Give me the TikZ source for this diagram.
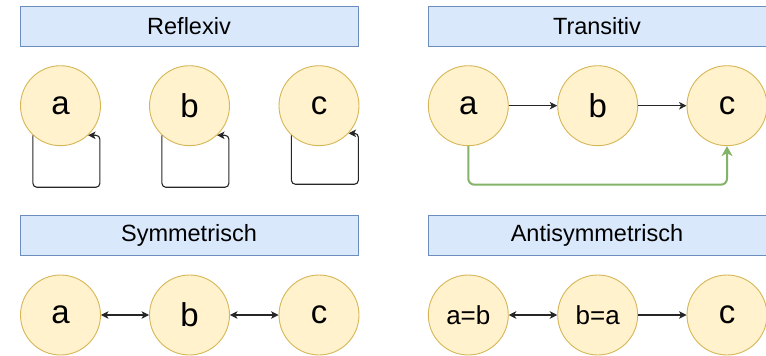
\documentclass[tikz,border=0pt]{standalone}
\usepackage{fontspec}
\setmainfont{Liberation Sans}
\usetikzlibrary{arrows.meta}
\definecolor{cfill}{HTML}{FFF2CC}
\definecolor{cdraw}{HTML}{D6B656}
\definecolor{tfill}{HTML}{DAE8FC}
\definecolor{tdraw}{HTML}{6C8EBF}
\definecolor{gline}{HTML}{82B366}
\tikzset{
  elem/.style={circle, draw=cdraw, fill=cfill, line width=0.9pt, minimum size=80pt, inner sep=0pt, font=\fontsize{33}{33}\selectfont},
  elemsmall/.style={elem, font=\fontsize{26}{26}\selectfont},
  titlebox/.style={draw=tdraw, fill=tfill, line width=1pt, minimum width=338pt, minimum height=40pt, inner sep=0pt, font=\fontsize{23.5}{23.5}\selectfont},
  edge/.style={draw=black!85, line width=1.1pt, -{Stealth[length=7.5pt,width=7.5pt,inset=2pt]}},
  bedge/.style={edge, {Stealth[length=7.5pt,width=7.5pt,inset=2pt]}-{Stealth[length=7.5pt,width=7.5pt,inset=2pt]}},
  loopedge/.style={edge, rounded corners=4pt},
  greenedge/.style={draw=gline, line width=2pt, rounded corners=6pt, -{Stealth[length=10pt,width=11pt,inset=3pt]}}
}
\begin{document}
\begin{tikzpicture}[x=1pt,y=-1pt]
\useasboundingbox (0,0) rectangle (766,356);
% titles
\node[titlebox] (t1) at (189,26) {Reflexiv};
\node[titlebox] (t2) at (597,26) {Transitiv};
\node[titlebox] (t3) at (189,235) {Symmetrisch};
\node[titlebox] (t4) at (597,235) {Antisymmetrisch};
% reflexiv
\node[elem] (ra) at (60.5,105.7) {a};
\node[elem] (rb) at (189.5,105.7) {b};
\node[elem] (rc) at (319,105.7) {c};
\draw[loopedge] (ra.227) |- ++(67,52) |- (ra.-47);
\draw[loopedge] (rb.227) |- ++(67,52) |- (rb.-47);
\draw[loopedge] (rc.227) |- ++(67,49) |- (rc.-43);
% transitiv
\node[elem] (ta) at (468.3,105.7) {a};
\node[elem] (tb) at (597.7,105.7) {b};
\node[elem] (tc) at (727,105.7) {c};
\draw[edge] (ta) -- (tb);
\draw[edge] (tb) -- (tc);
\draw[greenedge] (ta.south) -- ++(0,38.5) -| (tc.south);
% symmetrisch
\node[elem] (sa) at (60.5,315) {a};
\node[elem] (sb) at (189.5,315) {b};
\node[elem] (sc) at (319,315) {c};
\draw[bedge] (sa) -- (sb);
\draw[bedge] (sb) -- (sc);
% antisymmetrisch
\node[elemsmall] (aa) at (468.3,315) {a=b};
\node[elemsmall] (ab) at (597.7,315) {b=a};
\node[elem] (ac) at (727,315) {c};
\draw[bedge] (aa) -- (ab);
\draw[edge] (ab) -- (ac);
\end{tikzpicture}
\end{document}
